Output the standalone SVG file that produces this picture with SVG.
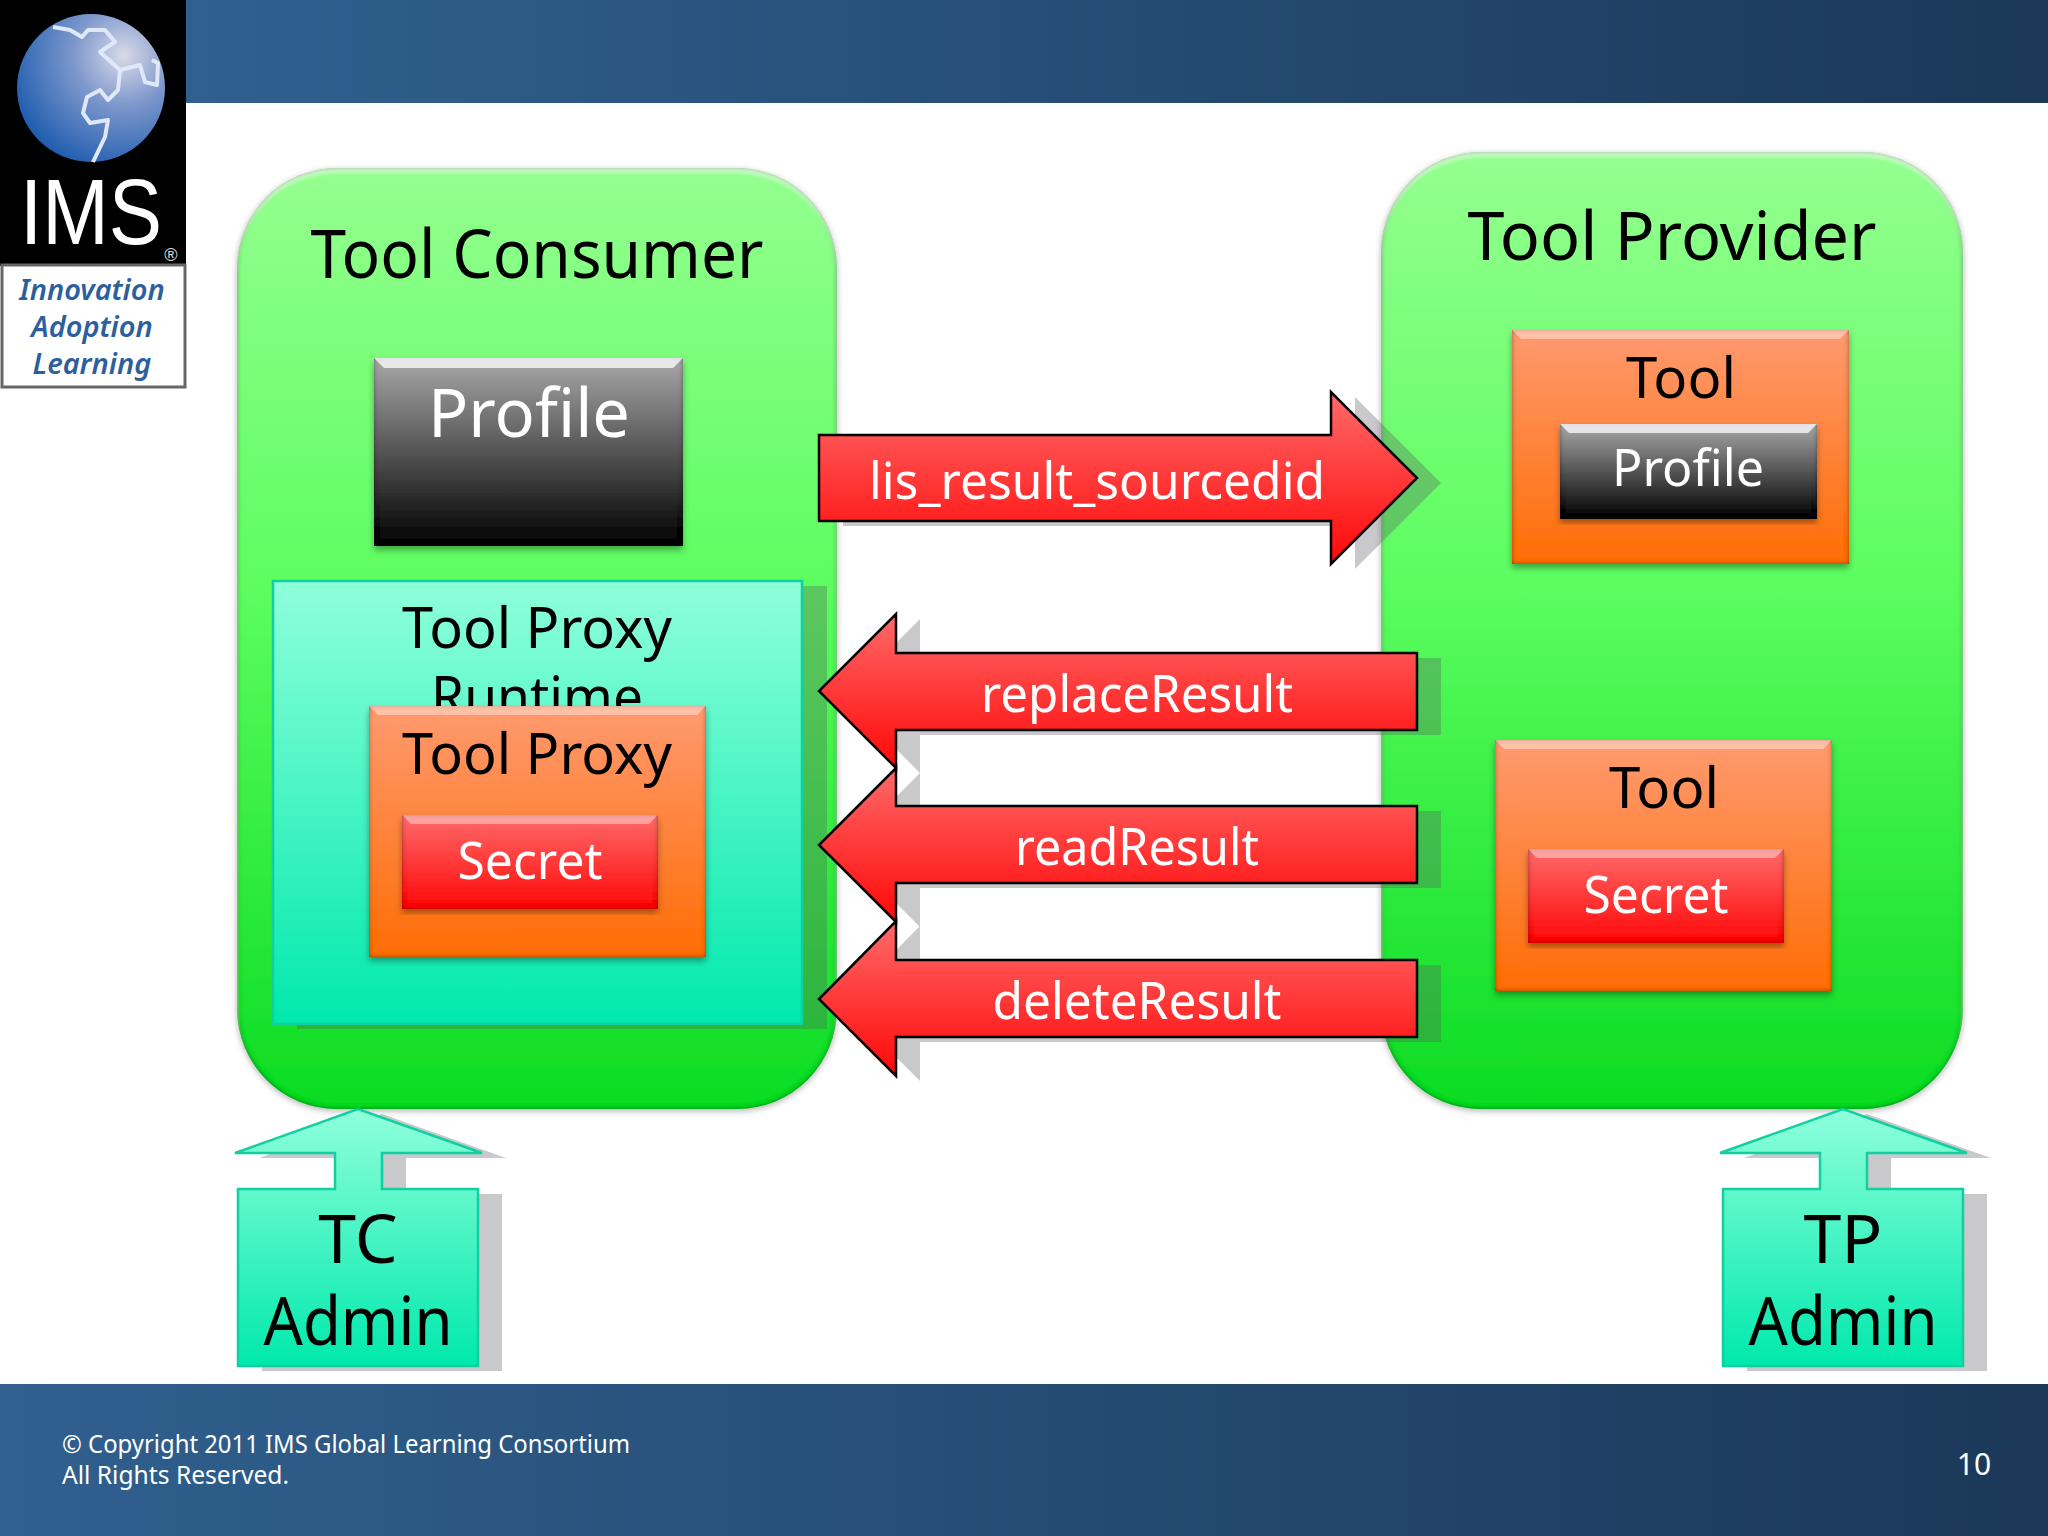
<svg xmlns="http://www.w3.org/2000/svg" width="2048" height="1536" viewBox="0 0 2048 1536">
<defs>
<linearGradient id="bar" x1="0" y1="0" x2="1" y2="0"><stop offset="0" stop-color="#30608f"/><stop offset="1" stop-color="#1b3858"/></linearGradient>
<linearGradient id="green" x1="0" y1="0" x2="0" y2="1"><stop offset="0" stop-color="#94ff8f"/><stop offset="0.45" stop-color="#5cfd60"/><stop offset="1" stop-color="#0bdc22"/></linearGradient>
<linearGradient id="aqua" x1="0" y1="0" x2="0" y2="1"><stop offset="0" stop-color="#8fffdb"/><stop offset="1" stop-color="#00e9ac"/></linearGradient>
<linearGradient id="orange" x1="0" y1="0" x2="0" y2="1"><stop offset="0" stop-color="#ff9a70"/><stop offset="1" stop-color="#ff6d05"/></linearGradient>
<linearGradient id="red" x1="0" y1="0" x2="0" y2="1"><stop offset="0" stop-color="#ff6a6a"/><stop offset="1" stop-color="#ff0808"/></linearGradient>
<linearGradient id="black" x1="0" y1="0" x2="0" y2="1"><stop offset="0" stop-color="#a8a8a8"/><stop offset="1" stop-color="#000"/></linearGradient>
<radialGradient id="globe" cx="0.72" cy="0.28" r="0.85"><stop offset="0" stop-color="#d8dae8"/><stop offset="0.4" stop-color="#7d97cc"/><stop offset="1" stop-color="#1557ac"/></radialGradient>
<filter id="blobf" x="-3%" y="-3%" width="106%" height="106%">
<feGaussianBlur in="SourceAlpha" stdDeviation="2.5" result="b"/>
<feComposite in="SourceAlpha" in2="b" operator="out" result="edge"/>
<feFlood flood-color="#063a10" flood-opacity="1"/><feComposite in2="edge" operator="in" result="e"/>
<feOffset in="SourceAlpha" dy="5" result="o"/><feGaussianBlur in="o" stdDeviation="1.5" result="ob"/>
<feComposite in="SourceAlpha" in2="ob" operator="out" result="top"/>
<feFlood flood-color="#fff" flood-opacity=".4"/><feComposite in2="top" operator="in" result="t"/>
<feOffset in="SourceAlpha" dy="2" result="d"/><feGaussianBlur in="d" stdDeviation="3" result="db"/>
<feFlood flood-color="#000" flood-opacity=".3"/><feComposite in2="db" operator="in" result="s"/>
<feMerge><feMergeNode in="s"/><feMergeNode in="SourceGraphic"/><feMergeNode in="e"/><feMergeNode in="t"/></feMerge>
</filter>
<filter id="boxf" x="-6%" y="-6%" width="112%" height="112%">
<feGaussianBlur in="SourceAlpha" stdDeviation="2.5" result="b"/>
<feComposite in="SourceAlpha" in2="b" operator="out" result="edge"/>
<feFlood flood-color="#000" flood-opacity=".75"/><feComposite in2="edge" operator="in" result="e"/>
<feOffset in="SourceAlpha" dy="4" result="d"/><feGaussianBlur in="d" stdDeviation="3" result="db"/>
<feFlood flood-color="#000" flood-opacity=".35"/><feComposite in2="db" operator="in" result="s"/>
<feMerge><feMergeNode in="s"/><feMergeNode in="SourceGraphic"/><feMergeNode in="e"/></feMerge>
</filter>
</defs>
<style>
text{font-family:"Noto Sans","DejaVu Sans",sans-serif;text-anchor:middle}
.blob{fill:url(#green);filter:url(#blobf)}
.tool{fill:url(#orange);filter:url(#boxf)}
.sec{fill:url(#red);filter:url(#boxf)}
.prof{fill:url(#black);filter:url(#boxf)}
.hi{fill:#fff;opacity:.4}
.hi2{fill:#fff;opacity:.75}
.sh{fill:#5a5a60;opacity:.33}
.arr{fill:url(#red);stroke:#000;stroke-width:2.5}
.aq{fill:url(#aqua);stroke:#10cfa0;stroke-width:2.5}
.b{fill:#000}.w{fill:#fff}
.t68{font-size:68px}.t57{font-size:57px}.t51{font-size:51px}
.foot{text-anchor:start;font-size:26px;fill:#fff}
.logo{font-size:29px;font-style:italic;font-weight:600;fill:#2c5f9e}
</style>
<rect id="background" width="2048" height="1536" fill="#fff"/>
<rect id="top-bar" x="186" y="0" width="1862" height="103" fill="url(#bar)"/>
<g id="footer">
<rect x="0" y="1384" width="2048" height="152" fill="url(#bar)"/>
<text x="62" y="1453" class="foot" textLength="568" lengthAdjust="spacingAndGlyphs">© Copyright 2011 IMS Global Learning Consortium</text>
<text x="62" y="1484" class="foot" textLength="227" lengthAdjust="spacingAndGlyphs">All Rights Reserved.</text>
<text x="1974" y="1475" style="font-size:30px" class="w">10</text>
</g>
<g id="logo">
<rect x="0" y="0" width="186" height="266" fill="#000"/>
<circle cx="91" cy="88" r="74" fill="url(#globe)"/>
<path d="M53 27L70 30L82 37L88 30H105L115 42L100 52L120 70L118 90L108 100L100 90L87 97L83 113L90 123L108 120L105 137L93 162M120 70L140 65L145 82L157 85L158 63L152 60" fill="none" stroke="#dfe8f8" stroke-width="4" stroke-linejoin="round"/>
<text x="91" y="244" style="font-family:'Liberation Sans',sans-serif;font-size:92px" class="w" textLength="142" lengthAdjust="spacingAndGlyphs">IMS</text>
<text x="171" y="261" style="font-family:'Liberation Sans',sans-serif;font-size:18px" fill="#ddd">®</text>
<rect x="2" y="265" width="183" height="122" fill="#fff" stroke="#666" stroke-width="3"/>
<text x="92" y="300" class="logo">Innovation</text>
<text x="92" y="337" class="logo">Adoption</text>
<text x="92" y="374" class="logo">Learning</text>
</g>
<g id="tool-consumer">
<rect class="blob" x="237" y="168" width="600" height="941" rx="100"/>
<text x="537" y="278" class="b t68" textLength="453" lengthAdjust="spacingAndGlyphs">Tool Consumer</text>
</g>
<g id="tool-provider">
<rect class="blob" x="1381" y="152" width="582" height="957" rx="100"/>
<text x="1672" y="260" class="b t68" textLength="409" lengthAdjust="spacingAndGlyphs">Tool Provider</text>
</g>
<g id="profile-left">
<rect class="prof" x="374" y="358" width="309" height="188"/>
<path class="hi2" d="M374 358H683L673 368H384Z"/>
<text x="529" y="437" class="w t68" textLength="202" lengthAdjust="spacingAndGlyphs">Profile</text>
</g>
<g id="tool-proxy-runtime">
<rect class="sh" x="297" y="586" width="530" height="443"/>
<rect x="273" y="581" width="529" height="443" fill="url(#aqua)" stroke="#10cfa0" stroke-width="2.5"/>
<text x="537" y="648" class="b t57" textLength="270" lengthAdjust="spacingAndGlyphs">Tool Proxy</text>
<text x="537" y="717" class="b t57" textLength="212" lengthAdjust="spacingAndGlyphs">Runtime</text>
</g>
<g id="tool-proxy">
<rect class="tool" x="369" y="706" width="337" height="251"/>
<path class="hi" d="M369 706H706L697 715H378Z"/>
<text x="537" y="774" class="b t57" textLength="270" lengthAdjust="spacingAndGlyphs">Tool Proxy</text>
</g>
<g id="secret-left">
<rect class="sec" x="402" y="815" width="256" height="94"/>
<path class="hi" d="M402 815H658L649 824H411Z"/>
<text x="530" y="879" class="w t51" textLength="145" lengthAdjust="spacingAndGlyphs">Secret</text>
</g>
<g id="tool-top">
<rect class="tool" x="1512" y="330" width="337" height="234"/>
<path class="hi" d="M1512 330H1849L1840 339H1521Z"/>
<text x="1681" y="398" class="b t57" textLength="110" lengthAdjust="spacingAndGlyphs">Tool</text>
</g>
<g id="profile-right">
<rect class="prof" x="1560" y="424" width="257" height="95"/>
<path class="hi2" d="M1560 424H1817L1808 433H1569Z"/>
<text x="1688" y="486" class="w t51" textLength="152" lengthAdjust="spacingAndGlyphs">Profile</text>
</g>
<g id="tool-bottom">
<rect class="tool" x="1495" y="740" width="337" height="251"/>
<path class="hi" d="M1495 740H1832L1823 749H1504Z"/>
<text x="1664" y="808" class="b t57" textLength="110" lengthAdjust="spacingAndGlyphs">Tool</text>
</g>
<g id="secret-right">
<rect class="sec" x="1528" y="849" width="256" height="94"/>
<path class="hi" d="M1528 849H1784L1775 858H1537Z"/>
<text x="1656" y="913" class="w t51" textLength="145" lengthAdjust="spacingAndGlyphs">Secret</text>
</g>
<g id="connectors">
<path class="sh" transform="translate(24 5)" d="M819 435H1331V392L1417 478L1331 564V521H819Z"/>
<path class="arr" d="M819 435H1331V392L1417 478L1331 564V521H819Z"/>
<path class="sh" transform="translate(24 5)" d="M1417 653H896V614L819 691L896 768V730H1417Z"/>
<path class="arr" d="M1417 653H896V614L819 691L896 768V730H1417Z"/>
<path class="sh" transform="translate(24 5)" d="M1417 806H896V768L819 845L896 922V883H1417Z"/>
<path class="arr" d="M1417 806H896V768L819 845L896 922V883H1417Z"/>
<path class="sh" transform="translate(24 5)" d="M1417 960H896V921L819 999L896 1076V1037H1417Z"/>
<path class="arr" d="M1417 960H896V921L819 999L896 1076V1037H1417Z"/>
<text x="1097" y="499" class="w t51" textLength="456" lengthAdjust="spacingAndGlyphs">lis_result_sourcedid</text>
<text x="1137" y="712" class="w t51" textLength="312" lengthAdjust="spacingAndGlyphs">replaceResult</text>
<text x="1137" y="865" class="w t51" textLength="244" lengthAdjust="spacingAndGlyphs">readResult</text>
<text x="1137" y="1019" class="w t51" textLength="289" lengthAdjust="spacingAndGlyphs">deleteResult</text>
</g>
<g id="tc-admin">
<path class="sh" transform="translate(24 5)" d="M238 1189H335V1153H235L358 1109L482 1153H382V1189H478V1366H238Z"/>
<path class="aq" d="M238 1189H335V1153H235L358 1109L482 1153H382V1189H478V1366H238Z"/>
<text x="358" y="1263" class="b t68">TC</text>
<text x="358" y="1345" class="b t68" textLength="189" lengthAdjust="spacingAndGlyphs">Admin</text>
</g>
<g id="tp-admin">
<path class="sh" transform="translate(24 5)" d="M1723 1189H1820V1153H1720L1843 1109L1967 1153H1867V1189H1963V1366H1723Z"/>
<path class="aq" d="M1723 1189H1820V1153H1720L1843 1109L1967 1153H1867V1189H1963V1366H1723Z"/>
<text x="1843" y="1263" class="b t68">TP</text>
<text x="1843" y="1345" class="b t68" textLength="189" lengthAdjust="spacingAndGlyphs">Admin</text>
</g>
</svg>
